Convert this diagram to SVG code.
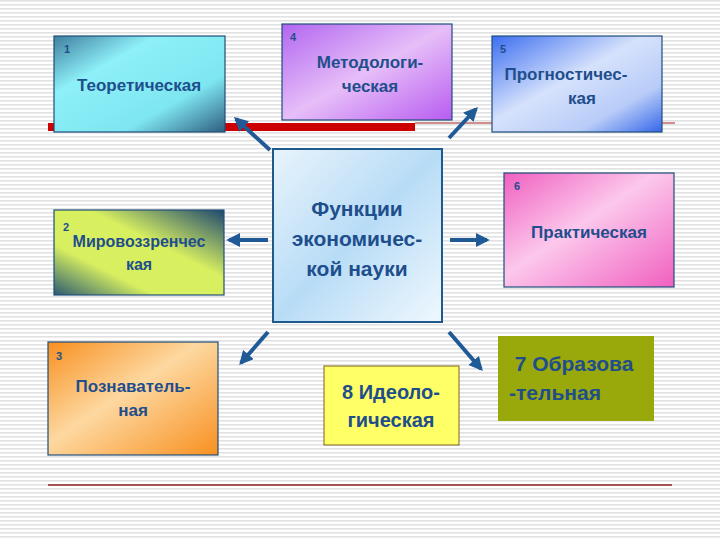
<svg xmlns="http://www.w3.org/2000/svg" width="720" height="540" viewBox="0 0 720 540">
<defs>
<pattern id="stripes" width="4" height="4" patternUnits="userSpaceOnUse"><rect width="4" height="4" fill="#fff"/><rect width="4" height="1.6" fill="#e2e2e2"/></pattern>
<linearGradient id="g1" x1="0" y1="0" x2="1" y2="1"><stop offset="0" stop-color="#3f7f9f"/><stop offset="0.3" stop-color="#8ef0f8"/><stop offset="0.7" stop-color="#7ee6f0"/><stop offset="1" stop-color="#2e5e80"/></linearGradient>
<linearGradient id="g4" x1="0" y1="0" x2="1" y2="1"><stop offset="0" stop-color="#b266f0"/><stop offset="0.5" stop-color="#e6bef8"/><stop offset="1" stop-color="#b85cf0"/></linearGradient>
<linearGradient id="g5" x1="0" y1="0" x2="1" y2="1"><stop offset="0" stop-color="#3d6ef0"/><stop offset="0.45" stop-color="#d6e2fc"/><stop offset="0.75" stop-color="#b8ccf8"/><stop offset="1" stop-color="#3566ea"/></linearGradient>
<linearGradient id="gc" x1="0" y1="0" x2="1" y2="1"><stop offset="0" stop-color="#e8f4fc"/><stop offset="0.5" stop-color="#b8dcf6"/><stop offset="1" stop-color="#f0f8fe"/></linearGradient>
<linearGradient id="g6" x1="0" y1="0" x2="1" y2="1"><stop offset="0" stop-color="#f060c0"/><stop offset="0.45" stop-color="#fcc8ec"/><stop offset="1" stop-color="#f060c0"/></linearGradient>
<linearGradient id="g2" x1="1" y1="0" x2="0" y2="1"><stop offset="0" stop-color="#1e4870"/><stop offset="0.4" stop-color="#d8f060"/><stop offset="0.7" stop-color="#d8f060"/><stop offset="1" stop-color="#2a5a70"/></linearGradient>
<linearGradient id="g3" x1="0" y1="0" x2="1" y2="1"><stop offset="0" stop-color="#f89020"/><stop offset="0.45" stop-color="#fdd8a0"/><stop offset="1" stop-color="#f89020"/></linearGradient>
<marker id="ah" viewBox="0 0 10 10" refX="8" refY="5" markerWidth="3.5" markerHeight="3.5" orient="auto"><path d="M0,0 L10,5 L0,10 z" fill="#1f5a96"/></marker>
<style>
.box{stroke:#1f4e7a;stroke-width:1.2}
.t{font-family:"Liberation Sans",Arial,sans-serif;font-weight:bold;fill:#1f4e8c;text-anchor:middle}
.n{font-family:"Liberation Sans",Arial,sans-serif;font-weight:bold;fill:#1f4e8c;font-size:11px}
.c{stroke:#1f5a96;stroke-width:4;fill:none;marker-end:url(#ah)}
</style>
</defs>
<rect width="720" height="540" fill="url(#stripes)"/>
<rect x="48" y="123" width="367" height="8" fill="#cc0000"/>
<line x1="415" y1="123" x2="675" y2="123" stroke="#a02020" stroke-width="1"/>
<line x1="48" y1="485" x2="672" y2="485" stroke="#902020" stroke-width="1.5"/>
<g id="n1"><rect class="box" x="54" y="36" width="171" height="96" fill="url(#g1)"/><text class="n" x="64" y="53">1</text><text class="t" x="139" y="91" font-size="17">Теоретическая</text></g>
<g id="n4"><rect class="box" x="282" y="24" width="170" height="96" fill="url(#g4)"/><text class="n" x="290" y="41">4</text><text class="t" x="370" y="68" font-size="17">Методологи-</text><text class="t" x="370" y="92" font-size="17">ческая</text></g>
<g id="n5"><rect class="box" x="492" y="36" width="170" height="96" fill="url(#g5)"/><text class="n" x="500" y="53">5</text><text class="t" x="566" y="80" font-size="17">Прогностичес-</text><text class="t" x="582" y="104" font-size="17">кая</text></g>
<g id="nc"><rect x="273" y="149" width="169" height="173" fill="url(#gc)" stroke="#1f5a8c" stroke-width="2"/><text class="t" x="357" y="216" font-size="21">Функции</text><text class="t" x="357" y="246" font-size="21">экономичес-</text><text class="t" x="357" y="276" font-size="21">кой науки</text></g>
<g id="n6"><rect class="box" x="504" y="173" width="170" height="114" fill="url(#g6)"/><text class="n" x="514" y="190">6</text><text class="t" x="589" y="238" font-size="17">Практическая</text></g>
<g id="n2"><rect class="box" x="54" y="210" width="170" height="85" fill="url(#g2)"/><text class="n" x="63" y="231">2</text><text class="t" x="139" y="247" font-size="16">Мировоззренчес</text><text class="t" x="139" y="270" font-size="16">кая</text></g>
<g id="n3"><rect class="box" x="48" y="342" width="170" height="113" fill="url(#g3)"/><text class="n" x="56" y="360">3</text><text class="t" x="133" y="392" font-size="17">Познаватель-</text><text class="t" x="133" y="416" font-size="17">ная</text></g>
<g id="n8"><rect x="324" y="366" width="135" height="79" fill="#ffff66" stroke="#806020" stroke-width="1"/><text class="t" x="391" y="399" font-size="20">8 Идеоло-</text><text class="t" x="391" y="427" font-size="20">гическая</text></g>
<g id="n7"><rect x="498" y="336" width="156" height="85" fill="#99a80a"/><text class="t" x="574" y="371" font-size="21">7 Образова</text><text class="t" x="555" y="400" font-size="21">-тельная</text></g>
<g id="connectors">
<line class="c" x1="270" y1="150" x2="236" y2="119"/>
<line class="c" x1="449" y1="138" x2="476" y2="109"/>
<line class="c" x1="268" y1="240" x2="229" y2="240"/>
<line class="c" x1="450" y1="240" x2="487" y2="240"/>
<line class="c" x1="268" y1="332" x2="241" y2="363"/>
<line class="c" x1="449" y1="332" x2="481" y2="369"/>
</g>
</svg>
